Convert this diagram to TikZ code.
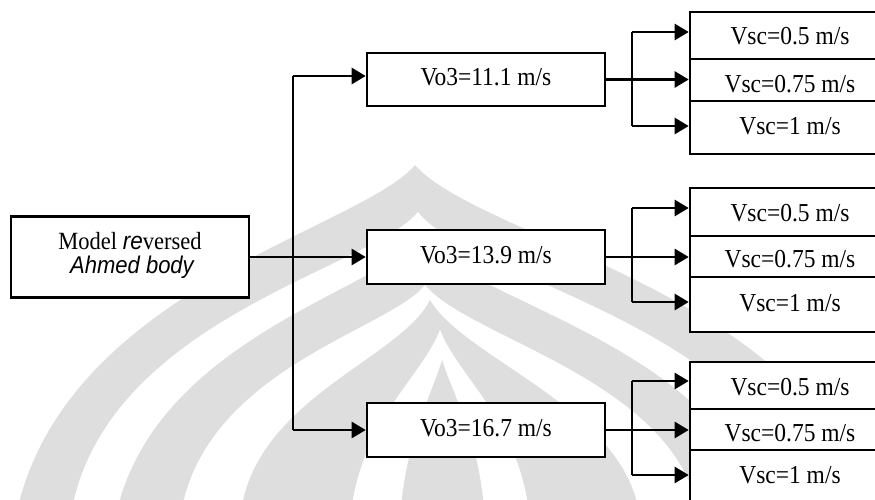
\documentclass[tikz,border=0pt]{standalone}
\usepackage{fontspec}
\setmainfont{Liberation Serif}
\newfontfamily\arialfont{Liberation Sans}
\usetikzlibrary{arrows.meta}
\newcommand{\vstretch}[1]{\scalebox{1}[1.1]{#1}}
\begin{document}
\begin{tikzpicture}[x=1pt,y=-1pt,
  box/.style={draw=black,line width=2.6pt,inner sep=0pt},
  plainline/.style={line width=2.6pt},
  conn/.style={line width=2.6pt,-{Triangle[length=14pt,width=16pt]}},
  lbl/.style={anchor=base,inner sep=0pt,font=\fontsize{23.5}{26}\selectfont},
  wmgrey/.style={fill=black!13,draw=none},
  wmwhite/.style={fill=white,draw=none}]
\useasboundingbox (0,0) rectangle (875,500);
\clip (0,0) rectangle (875,500);
\fill[white] (0,0) rectangle (875,500);
% watermark (approximate)
\fill[wmgrey] (415,165) .. controls (360,230) and (60,290) .. (15,520)
  -- (865,520) .. controls (830,300) and (480,240) .. (415,165) -- cycle;
\fill[wmwhite] (418,212) .. controls (370,270) and (100,320) .. (70,520)
  -- (805,520) .. controls (780,330) and (470,280) .. (418,212) -- cycle;
\fill[wmgrey] (420,238) .. controls (380,290) and (150,340) .. (115,520)
  -- (760,520) .. controls (735,350) and (465,300) .. (420,238) -- cycle;
\fill[wmwhite] (425,285) .. controls (390,330) and (200,370) .. (180,520)
  -- (700,520) .. controls (680,380) and (470,340) .. (425,285) -- cycle;
\fill[wmgrey] (430,300) .. controls (400,360) and (250,400) .. (240,520)
  -- (640,520) .. controls (630,410) and (465,360) .. (430,300) -- cycle;
\fill[wmwhite] (440,330) .. controls (420,380) and (360,420) .. (350,520)
  -- (530,520) .. controls (520,420) and (460,380) .. (440,330) -- cycle;
\fill[wmgrey] (442,360) .. controls (430,400) and (405,440) .. (400,520)
  -- (485,520) .. controls (480,440) and (455,400) .. (442,360) -- cycle;
% model box
\node[box,fill=white,minimum width=238pt,minimum height=81pt] (model) at (130,257) {};
\node[lbl,font=\fontsize{22.5}{26}\selectfont] (mt1) at (130,249.5) {\vstretch{Model {\arialfont\itshape re}versed}};
\node[lbl,font=\fontsize{22}{26}\selectfont\arialfont\itshape] (mt2) at (132,273.3) {\vstretch{Ahmed body}};
% Vo3 boxes
\node[box,fill=white,minimum width=238pt,minimum height=53pt] (v1) at (486,79.5) {};
\node[box,fill=white,minimum width=238pt,minimum height=54pt] (v2) at (486,257) {};
\node[box,fill=white,minimum width=238pt,minimum height=54pt] (v3) at (486,430) {};
\node[lbl] (v1t) at (486,85.7) {\vstretch{Vo3=11.1 m/s}};
\node[lbl] (v2t) at (486,263) {\vstretch{Vo3=13.9 m/s}};
\node[lbl] (v3t) at (486,436) {\vstretch{Vo3=16.7 m/s}};
% Vsc rows
\node[box,fill=white,minimum width=200pt,minimum height=47pt] (s11) at (790,35.5) {};
\node[box,fill=white,minimum width=200pt,minimum height=42pt] (s12) at (790,80) {};
\node[box,fill=white,minimum width=200pt,minimum height=53pt] (s13) at (790,127.5) {};
\node[box,fill=white,minimum width=200pt,minimum height=48pt] (s21) at (790,212) {};
\node[box,fill=white,minimum width=200pt,minimum height=41pt] (s22) at (790,256.5) {};
\node[box,fill=white,minimum width=200pt,minimum height=55pt] (s23) at (790,304.5) {};
\node[box,fill=white,minimum width=200pt,minimum height=47pt] (s31) at (790,385.5) {};
\node[box,fill=white,minimum width=200pt,minimum height=41pt] (s32) at (790,429.5) {};
\node[box,fill=white,minimum width=200pt,minimum height=60pt] (s33) at (790,480) {};
\node[lbl] (s11t) at (790,45) {\vstretch{Vsc=0.5 m/s}};
\node[lbl] (s12t) at (790,93) {\vstretch{Vsc=0.75 m/s}};
\node[lbl] (s13t) at (790,135) {\vstretch{Vsc=1 m/s}};
\node[lbl] (s21t) at (790,221.7) {\vstretch{Vsc=0.5 m/s}};
\node[lbl] (s22t) at (790,267) {\vstretch{Vsc=0.75 m/s}};
\node[lbl] (s23t) at (790,311.7) {\vstretch{Vsc=1 m/s}};
\node[lbl] (s31t) at (790,395) {\vstretch{Vsc=0.5 m/s}};
\node[lbl] (s32t) at (790,441.7) {\vstretch{Vsc=0.75 m/s}};
\node[lbl] (s33t) at (790,483) {\vstretch{Vsc=1 m/s}};
% first level connectors
\coordinate (ft) at (293,76);
\coordinate (fb) at (293,430);
\draw[plainline] (ft) -- (fb);
\draw[conn] (model.east) -- (v2.west);
\draw[conn] (ft) -- (ft -| v1.west);
\draw[conn] (fb) -- (fb -| v3.west);
% second level connectors
\coordinate (a1t) at (632,32);
\coordinate (a1b) at (632,126);
\coordinate (a2t) at (632,208);
\coordinate (a2b) at (632,302);
\coordinate (a3t) at (632,381);
\coordinate (a3b) at (632,475);
\draw[plainline] (a1t) -- (a1b);
\draw[plainline] (a2t) -- (a2b);
\draw[plainline] (a3t) -- (a3b);
\draw[conn] (a1t) -- (a1t -| s11.west);
\draw[conn] (v1.east) -- (v1.east -| s12.west);
\draw[conn] (a1b) -- (a1b -| s13.west);
\draw[conn] (a2t) -- (a2t -| s21.west);
\draw[conn] (v2.east) -- (v2.east -| s22.west);
\draw[conn] (a2b) -- (a2b -| s23.west);
\draw[conn] (a3t) -- (a3t -| s31.west);
\draw[conn] (v3.east) -- (v3.east -| s32.west);
\draw[conn] (a3b) -- (a3b -| s33.west);
\end{tikzpicture}
\end{document}
